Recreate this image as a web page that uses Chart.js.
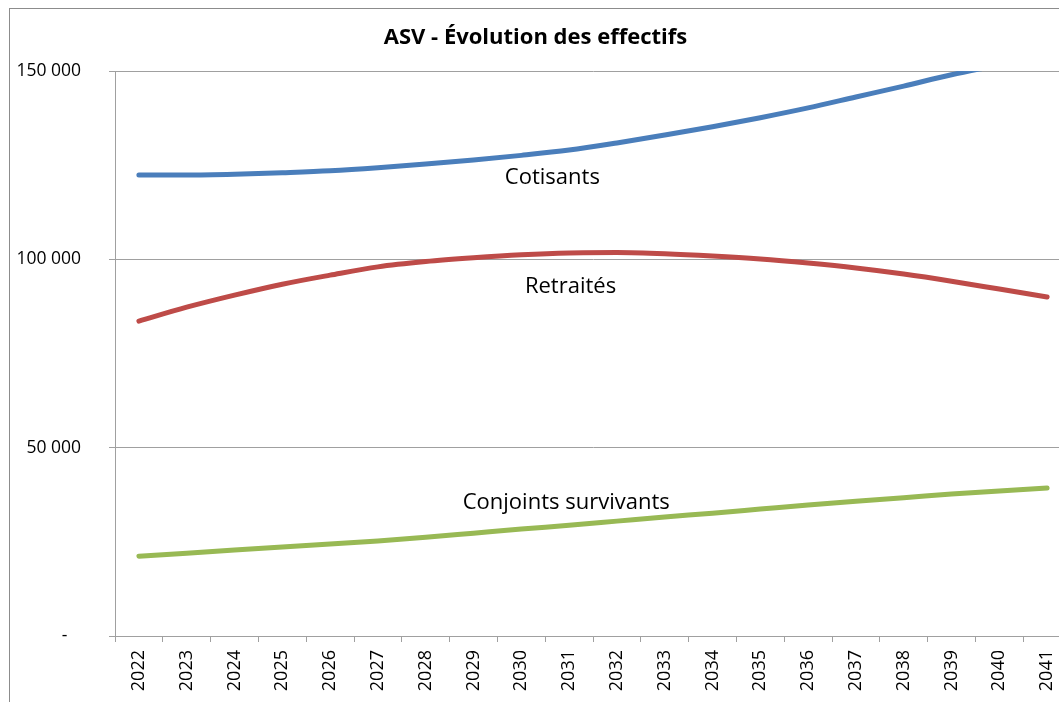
<!DOCTYPE html>
<html>
<head>
<meta charset="utf-8">
<script src="https://cdn.jsdelivr.net/npm/chart.js@4/dist/chart.umd.min.js"></script>
<style>
  html, body { margin: 0; padding: 0; background: #fff; overflow: hidden; }
  #wrap { position: absolute; left: 0; top: 0; width: 1080px; height: 702px; }
</style>
</head>
<body>
<div id="wrap"><canvas id="lineChart"></canvas></div>
<script>
const years = ['2022', '2023', '2024', '2025', '2026', '2027', '2028', '2029', '2030', '2031',
  '2032', '2033', '2034', '2035', '2036', '2037', '2038', '2039', '2040', '2041'];
// effectifs en milliers
const cotisants = [122.4, 122.4, 122.6, 123.0, 123.5, 124.3, 125.3, 126.4, 127.6, 129.0,
  130.9, 133.0, 135.2, 137.6, 140.2, 143.1, 146.0, 149.0, 151.6, 154.3];
const retraites = [83.6, 87.3, 90.5, 93.4, 95.8, 98.0, 99.4, 100.4, 101.2, 101.7,
  101.8, 101.5, 100.9, 100.1, 99.0, 97.7, 96.1, 94.2, 92.1, 90.0];
const conjoints = [21.2, 22.0, 22.8, 23.6, 24.4, 25.2, 26.2, 27.3, 28.4, 29.4,
  30.5, 31.6, 32.6, 33.7, 34.8, 35.8, 36.7, 37.7, 38.5, 39.3];
const yTicks = [0, 50000, 100000, 150000];

// libellés dans le graphique
const labelTexts = ['Cotisants', 'Retraités', 'Conjoints survivants'];
const labelAt = [8.65, 9.03, 8.94];
const labelVal = [121600, 92600, 35400];

const seriesColors = ['#4A7EBB', '#BE4B48', '#98B954'];
const FONT = 'Open Sans';

const toUnits = arr => arr.map(v => Math.round(v * 1000));

const frame = {
  id: 'frame',
  beforeDraw(chart) {
    const ctx = chart.ctx;
    ctx.save();
    ctx.strokeStyle = '#8c8c8c';
    ctx.lineWidth = 1;
    ctx.strokeRect(9.5, 8.5, 2000, 2000);
    ctx.restore();
  }
};

const inlineLabels = {
  id: 'inlineLabels',
  afterDatasetsDraw(chart) {
    const ctx = chart.ctx;
    const xs = chart.scales.x, ys = chart.scales.y;
    ctx.save();
    ctx.font = '22px "' + FONT + '"';
    ctx.fillStyle = '#000';
    ctx.textAlign = 'center';
    ctx.textBaseline = 'middle';
    labelTexts.forEach((t, i) => {
      ctx.fillText(t, xs.getPixelForValue(labelAt[i]), ys.getPixelForValue(labelVal[i]));
    });
    ctx.restore();
  }
};

function mkSet(label, data, color) {
  return {
    label: label,
    data: toUnits(data),
    borderColor: color,
    backgroundColor: color,
    borderWidth: 5,
    borderCapStyle: 'round',
    pointRadius: 0,
    tension: 0.4,
    cubicInterpolationMode: 'monotone',
    clip: 0
  };
}

new Chart('lineChart', {
  type: 'line',
  data: {
    labels: years,
    datasets: [
      mkSet('Cotisants', cotisants, seriesColors[0]),
      mkSet('Retraités', retraites, seriesColors[1]),
      mkSet('Conjoints survivants', conjoints, seriesColors[2])
    ]
  },
  plugins: [frame, inlineLabels],
  options: {
    responsive: true,
    maintainAspectRatio: false,
    animation: false,
    layout: { padding: { left: 0, right: 9, top: 0, bottom: 0 } },
    plugins: {
      legend: { display: false },
      tooltip: { enabled: false },
      title: {
        display: true,
        text: 'ASV - Évolution des effectifs',
        color: '#000',
        font: { family: FONT, size: 22, weight: 'bold' },
        padding: { top: 25, bottom: 19.6 }
      }
    },
    scales: {
      x: {
        offset: true,
        grid: {
          offset: true,
          drawOnChartArea: false,
          drawTicks: true,
          tickLength: 6,
          color: '#a0a0a0'
        },
        border: { color: '#a0a0a0' },
        ticks: {
          minRotation: 90,
          maxRotation: 90,
          padding: 8,
          color: '#000',
          font: { family: FONT, size: 18 }
        },
        afterFit(scale) { scale.height = 66; }
      },
      y: {
        min: 0,
        max: 150000,
        afterBuildTicks(scale) { scale.ticks = yTicks.map(v => ({ value: v })); },
        grid: { color: '#a0a0a0', tickLength: 6, drawTicks: true },
        border: { color: '#a0a0a0' },
        ticks: {
          padding: 28,
          color: '#000',
          font: { family: FONT, size: 17.5 },
          callback: v => v === 0 ? '-   ' : v.toLocaleString('fr-FR').replace(/\s/g, ' ')
        },
        afterFit(scale) { scale.width = 115; }
      }
    }
  }
});
</script>
</body>
</html>
